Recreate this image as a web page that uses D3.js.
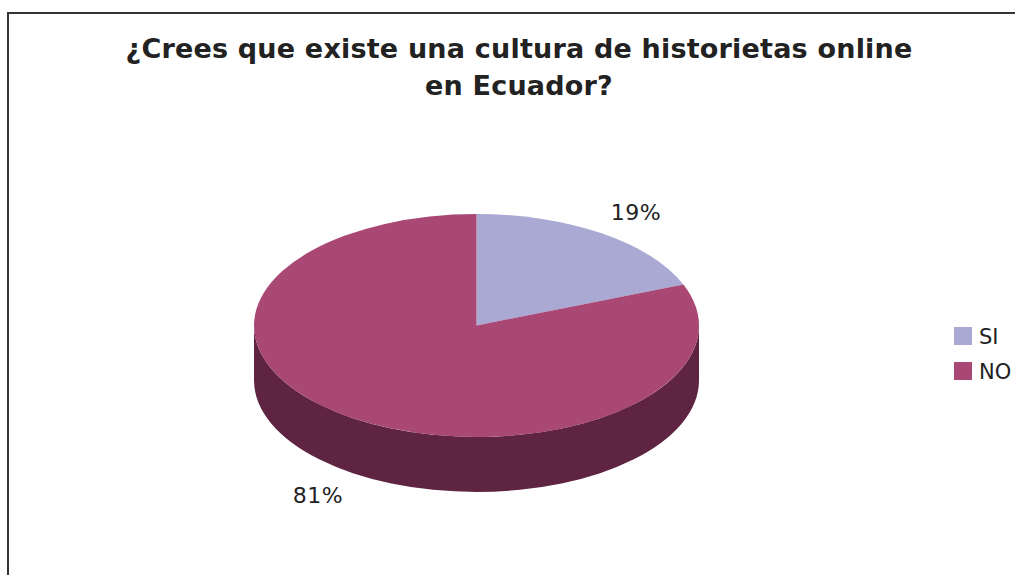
<!DOCTYPE html>
<meta charset="utf-8">
<script src="https://d3js.org/d3.v7.min.js"></script>
<style>
  body { margin: 0; background: #fff; }
  text { font-family: "DejaVu Sans", Verdana, sans-serif; fill: #222; }
</style>
<div id="chart"></div>
<script>
// data
var categories = ["SI", "NO"];
var values = [19, 81];
var labels = ["19%", "81%"];
var colors = ["#a9a9d3", "#a94775"];
var sideColors = ["#5a5a80", "#5f2442"];
var titleLines = ["¿Crees que existe una cultura de historietas online", "en Ecuador?"];

var width = 1015, height = 575;
var svg = d3.select("#chart").append("svg")
  .attr("width", width).attr("height", height);

// frame
svg.append("rect")
  .attr("x", 8).attr("y", 13)
  .attr("width", width + 10).attr("height", height + 10)
  .attr("fill", "none").attr("stroke", "#333").attr("stroke-width", 2);

// title
svg.selectAll(".title").data(titleLines).enter().append("text")
  .attr("class", "title")
  .attr("x", 519).attr("y", function(d, i) { return 58 + i * 37; })
  .attr("text-anchor", "middle")
  .style("font-size", "27px").style("font-weight", "bold")
  .style("letter-spacing", "0.2px")
  .text(function(d) { return d; });

// 3d pie geometry
var cx = 476.5, cy = 325.5, rx = 222.5, ry = 111.5, depth = 55;
function pt(a, dy) {
  return [cx + rx * Math.sin(a), cy - ry * Math.cos(a) + (dy || 0)];
}

var pie = d3.pie().sort(null).value(function(d) { return d; });
var arcs = pie(values);

// side walls (front half only: angles between PI/2 and 3PI/2)
arcs.forEach(function(d, i) {
  var a0 = Math.max(d.startAngle, Math.PI / 2),
      a1 = Math.min(d.endAngle, 3 * Math.PI / 2);
  if (a1 <= a0) return;
  var p0 = pt(a0), p1 = pt(a1), q1 = pt(a1, depth), q0 = pt(a0, depth);
  svg.append("path")
    .attr("d", "M" + p0 + "A" + rx + "," + ry + " 0 0 1 " + p1 +
               "L" + q1 + "A" + rx + "," + ry + " 0 0 0 " + q0 + "Z")
    .attr("fill", sideColors[i]);
});

// top faces
svg.selectAll(".slice").data(arcs).enter().append("path")
  .attr("class", "slice")
  .attr("d", function(d) {
    var s = pt(d.startAngle), e = pt(d.endAngle);
    var large = (d.endAngle - d.startAngle) > Math.PI ? 1 : 0;
    return "M" + cx + "," + cy + "L" + s + "A" + rx + "," + ry + " 0 " + large + " 1 " + e + "Z";
  })
  .attr("fill", function(d, i) { return colors[i]; });

// labels
var labelPos = [[636, 220], [318, 503]];
svg.selectAll(".lbl").data(labels).enter().append("text")
  .attr("class", "lbl")
  .attr("x", function(d, i) { return labelPos[i][0]; })
  .attr("y", function(d, i) { return labelPos[i][1]; })
  .attr("text-anchor", "middle")
  .style("font-size", "22px")
  .style("letter-spacing", "0.5px")
  .text(function(d) { return d; });

// legend
var legend = svg.selectAll(".leg").data(categories).enter().append("g")
  .attr("class", "leg")
  .attr("transform", function(d, i) { return "translate(954," + (327 + i * 35) + ")"; });
legend.append("rect").attr("width", 18).attr("height", 18)
  .attr("fill", function(d, i) { return colors[i]; });
legend.append("text").attr("x", 25).attr("y", 17)
  .style("font-size", "21px")
  .text(function(d) { return d; });
</script>
